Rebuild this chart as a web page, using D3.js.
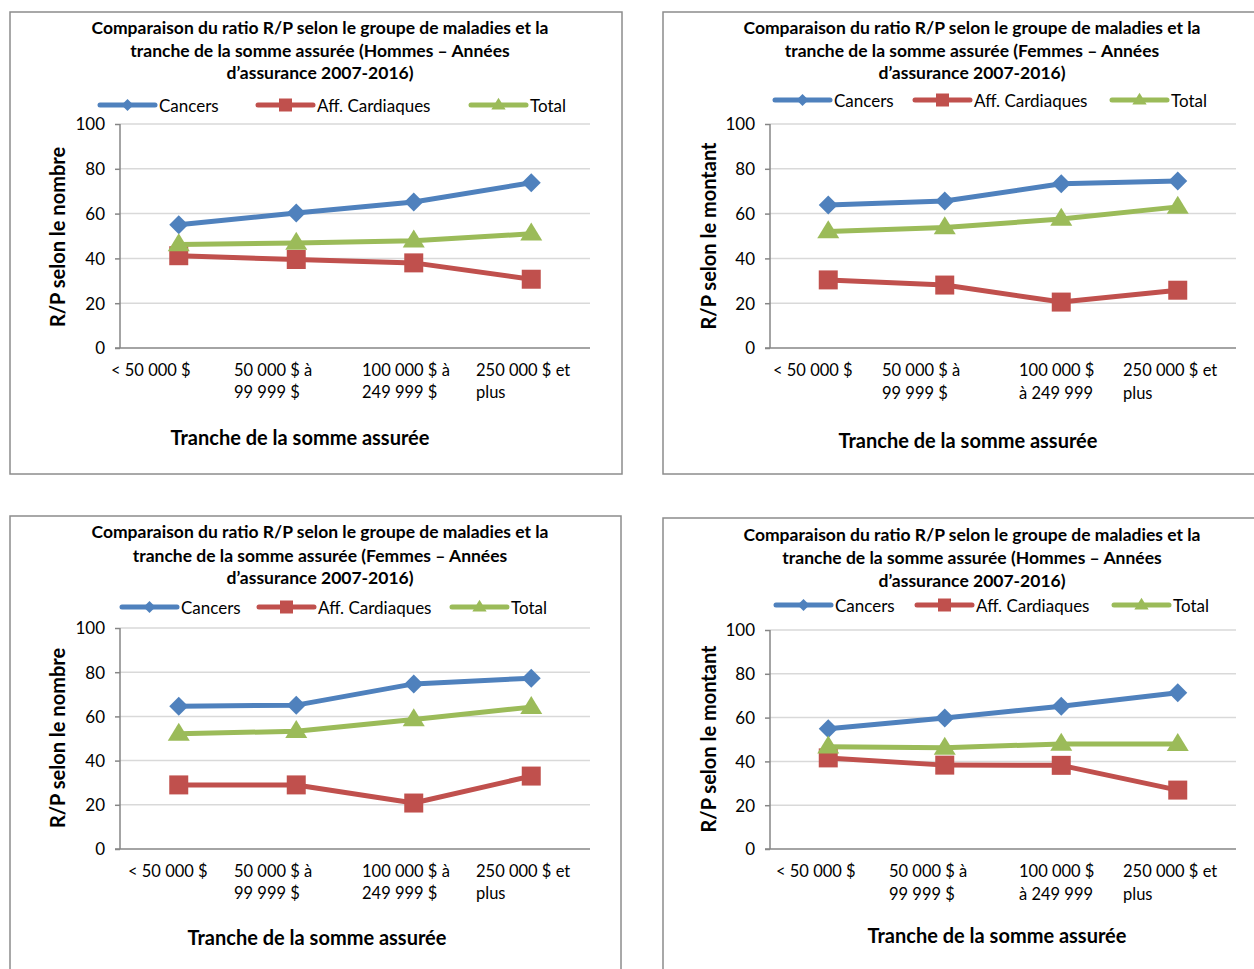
<!DOCTYPE html>
<html><head><meta charset="utf-8">
<script src="https://cdn.jsdelivr.net/npm/d3@7"></script>
<style>body{margin:0;background:#fff}svg{display:block}</style>
</head><body>
<svg id="c" width="1254" height="969"></svg>
<script>
// ---------- data ----------
const seriesNames = ["Cancers", "Aff. Cardiaques", "Total"];
const yTicks = [0, 20, 40, 60, 80, 100];
const titleLinesHommes = ["Comparaison du ratio R/P selon le groupe de maladies et la", "tranche de la somme assurée (Hommes – Années", "d’assurance 2007-2016)"];
const titleLinesFemmes = ["Comparaison du ratio R/P selon le groupe de maladies et la", "tranche de la somme assurée (Femmes – Années", "d’assurance 2007-2016)"];
const categoriesA = [["< 50 000 $"], ["50 000 $ à", "99 999 $"], ["100 000 $ à", "249 999 $"], ["250 000 $ et", "plus"]];
const categoriesB = [["< 50 000 $"], ["50 000 $ à", "99 999 $"], ["100 000 $", "à 249 999"], ["250 000 $ et", "plus"]];
const xAxisTitle = "Tranche de la somme assurée";
const yTitleNombre = "R/P selon le nombre";
const yTitleMontant = "R/P selon le montant";

// Panel 1: Hommes, nombre
const p1Cancers = [55, 60.3, 65.2, 73.8];
const p1Cardio  = [41.2, 39.5, 38, 30.7];
const p1Total   = [46.2, 46.9, 47.9, 51];
// Panel 2: Femmes, montant
const p2Cancers = [63.8, 65.6, 73.3, 74.6];
const p2Cardio  = [30.4, 28.1, 20.5, 25.8];
const p2Total   = [52, 53.8, 57.6, 63];
// Panel 3: Femmes, nombre
const p3Cancers = [64.6, 65.1, 74.7, 77.3];
const p3Cardio  = [29, 29, 20.8, 33];
const p3Total   = [52.1, 53.3, 58.6, 64.2];
// Panel 4: Hommes, montant
const p4Cancers = [54.9, 59.8, 65.2, 71.3];
const p4Cardio  = [41.6, 38.3, 38.2, 26.9];
const p4Total   = [46.7, 46.2, 48, 47.9];

// ---------- styling / layout ----------
const colors = ["#4f81bd", "#c0504d", "#9bbb59"];
const shapes = ["diamond", "square", "triangle"];
const FONT = "Lato, 'Open Sans', 'DejaVu Sans', sans-serif";

const panels = [
  { box:[10,12,612,462], plot:{x0:120,x1:590,yTop:124,yBot:348}, titleCx:320, titleY:[27,50,72], title:titleLinesHommes,
    legendY:105, legendX:[100,258,471], yTitle:yTitleNombre, yTitlePos:[57,237], xTitlePos:[300,437],
    cats:categoriesA, catX:[111,234,362,476], catY:[370,392], series:[p1Cancers,p1Cardio,p1Total] },
  { box:[663,12,620,462], plot:{x0:770,x1:1236,yTop:124,yBot:348}, titleCx:972, titleY:[27,50,72], title:titleLinesFemmes,
    legendY:100, legendX:[775,915,1112], yTitle:yTitleMontant, yTitlePos:[708,236], xTitlePos:[968,440],
    cats:categoriesB, catX:[773,882,1019,1123], catY:[370,393], series:[p2Cancers,p2Cardio,p2Total] },
  { box:[10,516,611,480], plot:{x0:120,x1:590,yTop:628,yBot:849}, titleCx:320, titleY:[531,555,577], title:titleLinesFemmes,
    legendY:607, legendX:[122,259,452], yTitle:yTitleNombre, yTitlePos:[57,738], xTitlePos:[317,937],
    cats:categoriesA, catX:[128,234,362,476], catY:[871,893], series:[p3Cancers,p3Cardio,p3Total] },
  { box:[663,518,620,480], plot:{x0:770,x1:1236,yTop:630,yBot:849}, titleCx:972, titleY:[534,557,580], title:titleLinesHommes,
    legendY:605, legendX:[776,917,1114], yTitle:yTitleMontant, yTitlePos:[708,739], xTitlePos:[997,935],
    cats:categoriesB, catX:[776,889,1019,1123], catY:[871,894], series:[p4Cancers,p4Cardio,p4Total] }
];

function markerPath(shape, s) {
  if (shape === "diamond") return `M0,${-s}L${s},0L0,${s}L${-s},0Z`;
  if (shape === "square") return `M${-s},${-s}H${s}V${s}H${-s}Z`;
  const h = s * 1.8;
  return `M0,${-h*0.62}L${s*1.1},${h*0.38}L${-s*1.1},${h*0.38}Z`;
}
const markerSize = [9.5, 9.5, 10];
const legendMarkerSize = [6, 6.5, 6.5];

const svg = d3.select("#c");

panels.forEach(p => {
  const g = svg.append("g");
  const [bx, by, bw, bh] = p.box;
  g.append("rect").attr("x", bx).attr("y", by).attr("width", bw).attr("height", bh)
    .attr("fill", "#fff").attr("stroke", "#8c8c8c").attr("stroke-width", 1.5);

  const x = d3.scalePoint().domain(d3.range(4)).range([p.plot.x0, p.plot.x1]).padding(0.5);
  const y = d3.scaleLinear().domain([0, 100]).range([p.plot.yBot, p.plot.yTop]);

  // gridlines
  g.selectAll(".grid").data(yTicks.filter(t => t > 0)).join("line")
    .attr("x1", p.plot.x0).attr("x2", p.plot.x1)
    .attr("y1", d => y(d)).attr("y2", d => y(d))
    .attr("stroke", "#d9d9d9").attr("stroke-width", 1.5);

  // y axis
  const yAxis = d3.axisLeft(y).tickValues(yTicks).tickSize(5).tickPadding(10);
  const ya = g.append("g").attr("transform", `translate(${p.plot.x0},0)`).call(yAxis);
  ya.select(".domain").attr("stroke", "#868686").attr("stroke-width", 1.5).attr("d", `M0,${p.plot.yTop}V${p.plot.yBot}`);
  ya.selectAll(".tick line").attr("stroke", "#868686").attr("stroke-width", 1.5);
  ya.selectAll(".tick text").attr("font-family", FONT).attr("font-size", 17).attr("fill", "#000").attr("dy", "0.35em");

  // x axis line
  g.append("line").attr("x1", p.plot.x0 - 5).attr("x2", p.plot.x1)
    .attr("y1", p.plot.yBot).attr("y2", p.plot.yBot)
    .attr("stroke", "#868686").attr("stroke-width", 1.5);

  // category labels
  p.cats.forEach((lines, i) => {
    lines.forEach((ln, j) => {
      g.append("text").attr("x", p.catX[i]).attr("y", p.catY[j])
        .attr("dominant-baseline", "central")
        .attr("font-family", FONT).attr("font-size", 16.5).attr("fill", "#000").text(ln);
    });
  });

  // series lines and markers
  p.series.forEach((vals, si) => {
    const line = d3.line().x((d, i) => x(i)).y(d => y(d));
    g.append("path").datum(vals).attr("d", line).attr("fill", "none")
      .attr("stroke", colors[si]).attr("stroke-width", 5).attr("stroke-linejoin", "round");
    g.selectAll(null).data(vals).join("path")
      .attr("transform", (d, i) => `translate(${x(i)},${y(d)})`)
      .attr("d", markerPath(shapes[si], markerSize[si]))
      .attr("fill", colors[si]);
  });

  // title
  p.title.forEach((ln, j) => {
    g.append("text").attr("x", p.titleCx).attr("y", p.titleY[j]).attr("text-anchor", "middle")
      .attr("dominant-baseline", "central").attr("font-family", FONT).attr("font-weight", "bold")
      .attr("font-size", 17.5).attr("fill", "#000").text(ln);
  });

  // legend
  seriesNames.forEach((nm, si) => {
    const lx = p.legendX[si];
    g.append("line").attr("x1", lx).attr("x2", lx + 55).attr("y1", p.legendY).attr("y2", p.legendY)
      .attr("stroke", colors[si]).attr("stroke-width", 5).attr("stroke-linecap", "round");
    g.append("path").attr("transform", `translate(${lx + 27.5},${p.legendY})`)
      .attr("d", markerPath(shapes[si], legendMarkerSize[si])).attr("fill", colors[si]);
    g.append("text").attr("x", lx + 59).attr("y", p.legendY).attr("dominant-baseline", "central")
      .attr("font-family", FONT).attr("font-size", 17).attr("fill", "#000").text(nm);
  });

  // axis titles
  g.append("text").attr("transform", `translate(${p.yTitlePos[0]},${p.yTitlePos[1]}) rotate(-90)`)
    .attr("text-anchor", "middle").attr("dominant-baseline", "central")
    .attr("font-family", FONT).attr("font-weight", "bold").attr("font-size", 20).attr("fill", "#000").text(p.yTitle);
  g.append("text").attr("x", p.xTitlePos[0]).attr("y", p.xTitlePos[1])
    .attr("text-anchor", "middle").attr("dominant-baseline", "central")
    .attr("font-family", FONT).attr("font-weight", "bold").attr("font-size", 20).attr("fill", "#000").text(xAxisTitle);
});
</script>
</body></html>
